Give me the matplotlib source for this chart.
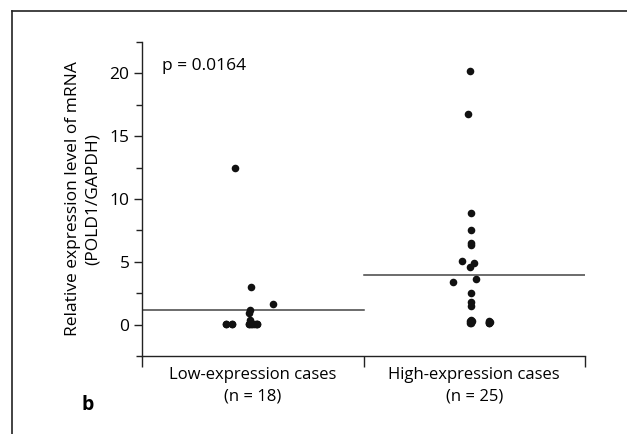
import matplotlib
matplotlib.use("Agg")
import matplotlib.pyplot as plt
from matplotlib.lines import Line2D
import numpy as np

plt.rcParams['font.family'] = ['Open Sans', 'DejaVu Sans']

categories = ["Low-expression cases\n(n = 18)", "High-expression cases\n(n = 25)"]
# values (overlapping points near zero estimated)
low_values = [12.5, 3.0, 1.64, 1.19, 0.93, 0.34, 0.08, 0.08, 0.08, 0.08,
              0.06, 0.06, 0.05, 0.05, 0.07, 0.07, 0.05, 0.06]
low_xoff = [-0.079, -0.007, 0.093, -0.014, -0.018, -0.014, -0.12, -0.093, -0.016, 0.02,
            -0.12, -0.093, -0.016, 0.02, -0.005, 0.005, -0.01, 0.015]
high_values = [20.2, 16.8, 8.9, 7.5, 6.5, 6.3, 5.1, 4.9, 4.6, 3.65, 3.4, 2.54,
               1.8, 1.5, 0.4, 0.2, 0.15, 0.25, 0.1, 0.3, 0.1, 0.2, 0.15, 0.3, 0.2]
high_xoff = [-0.018, -0.027, -0.014, -0.014, -0.014, -0.014, -0.054, 0.0, -0.018, 0.009, -0.095, -0.014,
             -0.014, -0.014, -0.016, -0.016, 0.068, 0.068, -0.018, -0.012, 0.066, 0.07, -0.014, -0.02, 0.068]
group_means = [1.14, 3.91]
y_ticks = [0, 5, 10, 15, 20]
p_text = "p = 0.0164"

fig = plt.figure(figsize=(6.27, 4.34), dpi=100)
ax = fig.add_axes([142/627, 1-356/434, (585-142)/627, (356-42)/434])

ink = "#111111"
for i, (vals, offs) in enumerate([(low_values, low_xoff), (high_values, high_xoff)]):
    ax.scatter(np.array(offs) + i, vals, s=30, color=ink, zorder=3, linewidths=0)
    ax.plot([i - 0.5, i + 0.5], [group_means[i], group_means[i]], color="#444444", lw=1.1, zorder=2)

ax.set_xlim(-0.5, 1.5)
ax.set_ylim(-2.5, 22.5)
for s in ["top", "right"]:
    ax.spines[s].set_visible(False)
for s in ["left", "bottom"]:
    ax.spines[s].set_color("#222222")
    ax.spines[s].set_linewidth(1.0)

ax.set_yticks(y_ticks)
ax.set_yticks(np.arange(-2.5, 22.6, 2.5), minor=True)
ax.tick_params(axis="y", which="major", length=6, width=1, color="#222222", labelsize=12.5, pad=3)
ax.tick_params(axis="y", which="minor", length=4, width=1, color="#222222")

ax.set_xticks([-0.5, 0.5, 1.5])
ax.set_xticklabels([])
ax.set_xticks([0, 1], minor=True)
ax.set_xticklabels(categories, minor=True, fontsize=12, linespacing=1.45)
ax.tick_params(axis="x", which="major", length=8, width=1, color="#222222", direction="out")
ax.tick_params(axis="x", which="minor", length=0, pad=8)

ax.set_ylabel("Relative expression level of mRNA\n(POLD1/GAPDH)", fontsize=12.5, linespacing=1.35, labelpad=6)

ax.text(0.045, 0.922, p_text, transform=ax.transAxes, fontsize=12.5, va="center", ha="left")
fig.text(88/627, 1-405/434, "b", fontsize=14, fontweight="bold", ha="center", va="center")

# outer frame (top and left edges)
fig.add_artist(Line2D([12/627, 1.0], [1-11/434, 1-11/434], transform=fig.transFigure, color="#222222", lw=1.2))
fig.add_artist(Line2D([12/627, 12/627], [0, 1-11/434], transform=fig.transFigure, color="#222222", lw=1.2))

fig.savefig("out.png", dpi=100)
